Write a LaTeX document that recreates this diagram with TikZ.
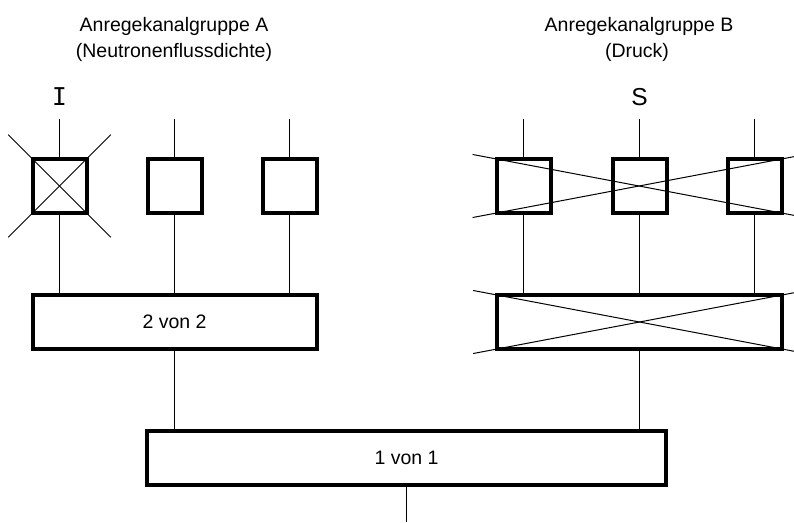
\documentclass[tikz,border=0pt]{standalone}
\usepackage{fontspec}
\setmainfont{Liberation Sans}
\newfontfamily\labelmono{DejaVu Sans Mono}
\usetikzlibrary{calc}
\begin{document}
\begin{tikzpicture}[x=1pt,y=-1pt,
  thinline/.style={line width=1pt},
  chanbox/.style={draw, line width=4pt, minimum width=54pt, minimum height=54pt, inner sep=0pt, outer sep=0pt},
  logicbox/.style={draw, line width=4pt, minimum height=54pt, inner sep=0pt, outer sep=0pt,
    font=\fontsize{19.5}{23}\selectfont},
  titletext/.style={anchor=base, font=\fontsize{19.5}{23}\selectfont},
  marktext/.style={anchor=base, font=\fontsize{24.5}{28}\selectfont}]
\useasboundingbox (0,0) rectangle (794,522);

% titles
\node[titletext] (tA1) at (174,31.7) {Anregekanalgruppe A};
\node[titletext] (tA2) at (174,57.5) {(Neutronenflussdichte)};
\node[titletext] (tB1) at (639,31.7) {Anregekanalgruppe B};
\node[titletext] (tB2) at (637,57.5) {(Druck)};
\node[marktext, font=\labelmono\fontsize{24.5}{28}\selectfont] (mI) at (59.5,105) {I};
\node[marktext] (mS) at (639.5,105) {S};

% channel boxes
\node[chanbox] (a1) at (59.5,186) {};
\node[chanbox] (a2) at (174.5,186) {};
\node[chanbox] (a3) at (289.5,186) {};
\node[chanbox] (b1) at (523.5,186) {};
\node[chanbox] (b2) at (639.5,186) {};
\node[chanbox] (b3) at (754.5,186) {};

% logic boxes
\node[logicbox, minimum width=284pt] (ga) at (174.5,322) {2 von 2};
\node[logicbox, minimum width=285pt] (gb) at (639.5,322) {};
\node[logicbox, minimum width=519pt] (gv) at (406.5,458) {1 von 1};

% input line ends
\foreach \n/\xx in {a1/59.5,a2/174.5,a3/289.5,b1/523.5,b2/639.5,b3/754.5}{
  \coordinate (in\n) at (\xx,119);
  \draw[thinline] (in\n) -- (\n.north);
}
% channel to group
\foreach \n in {a1,a2,a3}{ \draw[thinline] (\n.south) -- (\n.south |- ga.north); }
\foreach \n in {b1,b2,b3}{ \draw[thinline] (\n.south) -- (\n.south |- gb.north); }
% groups to voter
\draw[thinline] (ga.south) -- (ga.south |- gv.north);
\draw[thinline] (gb.south) -- (gb.south |- gv.north);
\coordinate (out) at (406.5,522);
\draw[thinline] (gv.south) -- (out);

% crosses
\draw[thinline] ($(a1.north west)!-0.45!(a1.south east)$) -- ($(a1.north west)!1.45!(a1.south east)$);
\draw[thinline] ($(a1.south west)!-0.45!(a1.north east)$) -- ($(a1.south west)!1.45!(a1.north east)$);
\draw[thinline] ($(b1.north west)!-0.084!(b3.south east)$) -- ($(b1.north west)!1.084!(b3.south east)$);
\draw[thinline] ($(b1.south west)!-0.084!(b3.north east)$) -- ($(b1.south west)!1.084!(b3.north east)$);
\draw[thinline] ($(gb.north west)!-0.084!(gb.south east)$) -- ($(gb.north west)!1.084!(gb.south east)$);
\draw[thinline] ($(gb.south west)!-0.084!(gb.north east)$) -- ($(gb.south west)!1.084!(gb.north east)$);
\end{tikzpicture}
\end{document}
